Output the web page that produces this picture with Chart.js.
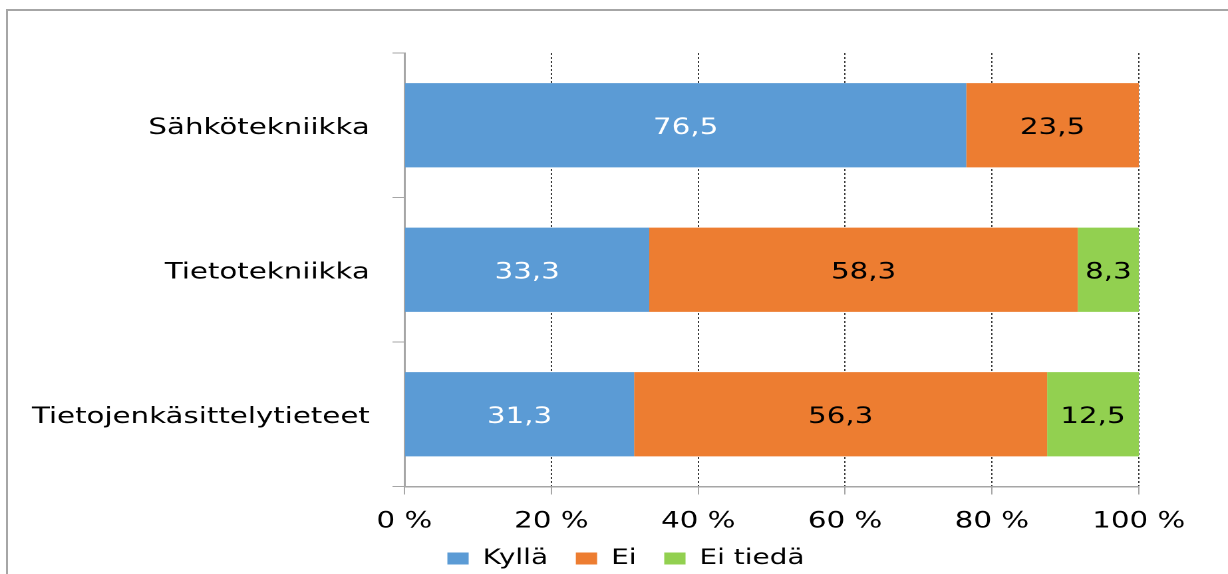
<!DOCTYPE html>
<html>
<head>
<meta charset="utf-8">
<script src="https://cdn.jsdelivr.net/npm/chart.js@4"></script>
<style>
  html, body { margin: 0; padding: 0; background: #fff; overflow: hidden; }
  #frame { position: absolute; left: 6px; top: 9px; width: 1300px; height: 700px;
           border-left: 2px solid #a6a6a6; border-top: 2px solid #a6a6a6; }
  /* the original picture is stretched sideways, so the chart is too */
  #wrap { position: absolute; left: 0; top: 0; width: 923px; height: 579px;
          transform: scaleX(1.3304); transform-origin: 0 0; }
</style>
</head>
<body>
<div id="frame"></div>
<div id="wrap"><canvas id="chart"></canvas></div>
<script>
const categories = ['Sähkötekniikka', 'Tietotekniikka', 'Tietojenkäsittelytieteet'];
const kylla = [76.5, 33.3, 31.3];
const ei = [23.5, 58.3, 56.3];
const eiTieda = [0, 8.3, 12.5];
const seriesNames = ['Kyllä', 'Ei', 'Ei tiedä'];
const xTickStep = 20;

const FONT = '"DejaVu Sans", Verdana, sans-serif';
const AXIS_GRAY = '#a6a6a6';

// 100 % stacked: each row is scaled to its own total (rows are rounded to 99.9 / 100.1)
const raw = [kylla, ei, eiTieda];
const totals = categories.map((_, j) => raw.reduce((s, arr) => s + arr[j], 0));
const share = arr => arr.map((v, j) => v / totals[j] * 100);

// numbers inside the bars, Finnish decimal comma
const valueLabels = {
  id: 'valueLabels',
  afterDatasetsDraw(chart) {
    const ctx = chart.ctx;
    ctx.save();
    ctx.font = '22px ' + FONT;
    ctx.textAlign = 'center';
    ctx.textBaseline = 'middle';
    chart.data.datasets.forEach((ds, i) => {
      chart.getDatasetMeta(i).data.forEach((bar, j) => {
        const v = raw[i][j];
        if (!v) return;
        const p = bar.getCenterPoint();
        ctx.fillStyle = i === 0 ? '#ffffff' : '#000000';
        ctx.fillText(v.toFixed(1).replace('.', ','), p.x, p.y + 3);
      });
    });
    ctx.restore();
  }
};

const ctx = document.getElementById('chart').getContext('2d');

new Chart(ctx, {
  type: 'bar',
  data: {
    labels: categories,
    datasets: [
      { label: seriesNames[0], data: share(kylla), backgroundColor: '#5b9bd5' },
      { label: seriesNames[1], data: share(ei), backgroundColor: '#ed7d31' },
      { label: seriesNames[2], data: share(eiTieda), backgroundColor: '#92d050' }
    ]
  },
  options: {
    indexAxis: 'y',
    responsive: true,
    maintainAspectRatio: false,
    animation: false,
    devicePixelRatio: 2,
    categoryPercentage: 1,
    barPercentage: 0.583,
    layout: { padding: { top: 53, right: 0, left: 18, bottom: 0 } },
    scales: {
      x: {
        stacked: true,
        min: 0,
        max: 100,
        ticks: {
          stepSize: xTickStep,
          color: '#000',
          font: { family: FONT, size: 22 },
          padding: 14,
          maxRotation: 0,
          callback: v => v + ' %'
        },
        grid: {
          color: c => c.index === 0 ? 'rgba(0,0,0,0)' : '#3a3a3a',
          lineWidth: 1,
          tickColor: AXIS_GRAY,
          tickLength: 8,
          tickBorderDash: []
        },
        border: { color: AXIS_GRAY, width: 1.5, dash: [2, 2] },
        afterFit: s => { s.height = 54; }
      },
      y: {
        stacked: true,
        ticks: {
          color: '#000',
          font: { family: FONT, size: 22 },
          padding: 17,
          labelOffset: 3
        },
        grid: {
          offset: true,
          drawOnChartArea: false,
          drawTicks: true,
          tickLength: 9,
          color: AXIS_GRAY
        },
        border: { color: AXIS_GRAY, width: 1.5 },
        afterFit: s => { s.width = 286; }
      },
      // empty right-hand strip, keeps the legend centred on the whole figure
      yRight: {
        type: 'category',
        position: 'right',
        ticks: { display: false },
        grid: { display: false },
        border: { display: false },
        afterFit: s => { s.width = 67; }
      }
    },
    plugins: {
      legend: {
        position: 'bottom',
        labels: {
          color: '#000',
          font: { family: FONT, size: 21 },
          boxWidth: 16,
          boxHeight: 12,
          padding: 7.5,
          generateLabels: chart => {
            const items = Chart.defaults.plugins.legend.labels.generateLabels(chart);
            items.forEach((it, i) => {
              it.lineWidth = 0;
              if (i < items.length - 1) it.text += '  ';
            });
            return items;
          }
        }
      },
      tooltip: { enabled: false },
      title: { display: false }
    }
  },
  plugins: [valueLabels]
});
</script>
</body>
</html>
